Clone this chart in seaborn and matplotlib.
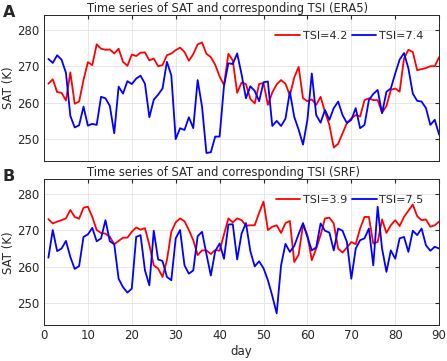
import numpy as np
import pandas as pd
import seaborn as sns
import matplotlib.pyplot as plt

days = list(range(1, 91))

# panel A (ERA5)
era5_tsi42 = [265.2, 266.4, 262.9, 262.7, 260.6, 268.3, 259.7, 260.3, 266.2, 271.1,
              270.3, 276.0, 274.8, 274.5, 274.6, 273.5, 274.8, 271.2, 270.1, 273.2,
              272.8, 273.7, 273.8, 271.6, 272.1, 270.0, 270.3, 273.0, 273.5, 274.4,
              275.1, 273.9, 271.5, 273.3, 276.0, 276.5, 273.4, 272.5, 270.4, 267.2,
              264.8, 273.4, 271.6, 262.7, 265.5, 265.1, 261.0, 259.8, 265.1, 265.4,
              259.4, 262.8, 265.0, 266.2, 265.2, 262.0, 266.9, 269.8, 261.2, 260.4,
              260.9, 259.4, 261.6, 257.5, 253.9, 247.7, 248.7, 251.6, 254.4, 255.7,
              256.6, 256.2, 260.7, 261.2, 260.7, 260.7, 257.3, 259.1, 263.5, 263.9,
              263.0, 272.1, 274.5, 273.9, 268.9, 269.2, 269.5, 270.0, 270.0, 272.5]
era5_tsi74 = [272.0, 270.9, 273.0, 271.8, 268.2, 256.4, 253.2, 253.8, 258.9, 253.7,
              254.2, 253.9, 261.6, 261.2, 259.1, 251.6, 264.4, 262.5, 265.9, 265.1,
              266.6, 267.4, 265.2, 256.0, 260.8, 262.2, 263.9, 271.2, 267.5, 250.0,
              253.0, 252.5, 256.0, 253.0, 266.2, 258.9, 246.2, 246.4, 250.7, 250.7,
              264.6, 270.8, 270.6, 273.5, 267.8, 261.2, 264.5, 263.2, 260.4, 265.6,
              265.8, 253.6, 255.0, 253.6, 255.6, 263.0, 256.1, 252.6, 248.5, 255.3,
              268.0, 256.6, 254.5, 258.0, 255.3, 258.5, 260.3, 256.6, 254.4, 255.3,
              258.5, 253.0, 253.9, 260.7, 262.4, 263.5, 257.1, 263.0, 263.9, 268.0,
              271.8, 273.6, 269.4, 262.5, 260.5, 260.3, 258.5, 253.9, 255.3, 251.2]

# panel B (SRF)
srf_tsi39 = [273.1, 271.9, 272.4, 272.8, 273.3, 275.6, 273.7, 273.2, 276.2, 276.5,
             273.7, 270.1, 269.3, 269.1, 268.2, 266.2, 267.1, 268.0, 268.0, 269.6,
             270.8, 270.2, 270.6, 266.0, 260.4, 259.5, 257.2, 261.8, 269.6, 272.2,
             273.3, 272.5, 270.1, 267.3, 263.2, 264.5, 264.5, 263.5, 264.6, 264.4,
             268.9, 273.3, 272.2, 273.3, 272.8, 271.3, 271.4, 271.4, 274.8, 277.9,
             270.1, 271.0, 271.4, 269.3, 272.0, 272.6, 261.3, 263.3, 271.6, 268.6,
             261.8, 265.0, 268.7, 273.3, 273.5, 271.9, 265.0, 263.9, 265.3, 266.8,
             266.2, 270.5, 273.7, 273.7, 266.4, 266.8, 273.0, 269.3, 271.4, 272.8,
             271.2, 273.7, 275.4, 277.1, 273.9, 272.8, 273.0, 271.0, 271.4, 272.4]
srf_tsi75 = [262.5, 270.1, 264.3, 265.0, 267.1, 262.7, 259.4, 260.2, 268.2, 268.9,
             270.7, 267.0, 267.8, 272.8, 267.0, 266.2, 256.7, 254.4, 252.9, 254.0,
             268.2, 268.7, 259.0, 254.9, 269.9, 262.0, 261.6, 257.2, 256.3, 267.8,
             270.1, 260.4, 258.1, 259.0, 268.4, 269.6, 263.5, 257.6, 264.3, 266.4,
             262.2, 271.6, 271.7, 262.0, 269.1, 272.0, 264.3, 260.1, 261.5, 259.6,
             256.3, 252.0, 247.2, 260.4, 266.3, 264.1, 265.7, 269.0, 272.0, 268.2,
             264.5, 265.3, 271.9, 269.9, 269.4, 264.5, 270.5, 269.9, 266.8, 256.7,
             265.0, 267.3, 267.8, 270.5, 260.4, 276.5, 265.0, 258.6, 264.5, 262.2,
             267.8, 268.2, 264.1, 269.9, 268.7, 270.5, 265.9, 264.4, 265.5, 265.0]

panels = [
    ("A", "Time series of SAT and corresponding TSI (ERA5)",
     {"TSI=4.2": era5_tsi42, "TSI=7.4": era5_tsi74}),
    ("B", "Time series of SAT and corresponding TSI (SRF)",
     {"TSI=3.9": srf_tsi39, "TSI=7.5": srf_tsi75}),
]

sns.set_style("whitegrid", {"grid.color": "#e3e3e3", "axes.edgecolor": "#262626"})
plt.rcParams["font.family"] = ["DejaVu Sans"]
plt.rcParams["font.size"] = 8

fig = plt.figure(figsize=(4.47, 3.61), dpi=100)
ax_a = fig.add_axes([0.0984, 0.554, 0.884, 0.404])
ax_b = fig.add_axes([0.0984, 0.0997, 0.884, 0.4033])

for ax, (tag, title, series) in zip([ax_a, ax_b], panels):
    df = pd.DataFrame({"day": days, **series}).melt(
        id_vars="day", var_name="TSI", value_name="SAT")
    sns.lineplot(data=df, x="day", y="SAT", hue="TSI",
                 palette=["#ff0000", "#0000ff"], linewidth=1.3, ax=ax)
    ax.set_xlim(0, 90)
    ax.set_ylim(244, 284)
    ax.set_xticks(range(0, 91, 10))
    ax.set_yticks([250, 260, 270, 280])
    ax.set_ylabel("SAT (K)", fontsize=8.5, labelpad=2)
    # titles sit left of centre in the original, both starting at the same x
    ax.set_title(title, fontsize=8.3, pad=2.5, x=0.11, ha="left")
    ax.tick_params(direction="in", length=3, top=True, right=True,
                   labelsize=8.5, color="#262626", pad=3)
    for s in ax.spines.values():
        s.set_linewidth(0.7)
    ax.grid(True, linewidth=0.6)
    ax.legend(loc="upper right", ncol=2, frameon=False, fontsize=8,
              handlelength=2.2, columnspacing=0.45, handletextpad=0.25,
              borderaxespad=1.0, bbox_to_anchor=(1.0, 1.0))
    ax.text(-0.105, 1.07, tag, transform=ax.transAxes, fontsize=11.5,
            fontweight="bold", va="top", ha="left")

ax_a.set_xlabel("")
ax_a.tick_params(labelbottom=False)
ax_b.set_xlabel("day", fontsize=8.5, labelpad=2)

fig.savefig("out.png", dpi=100)
